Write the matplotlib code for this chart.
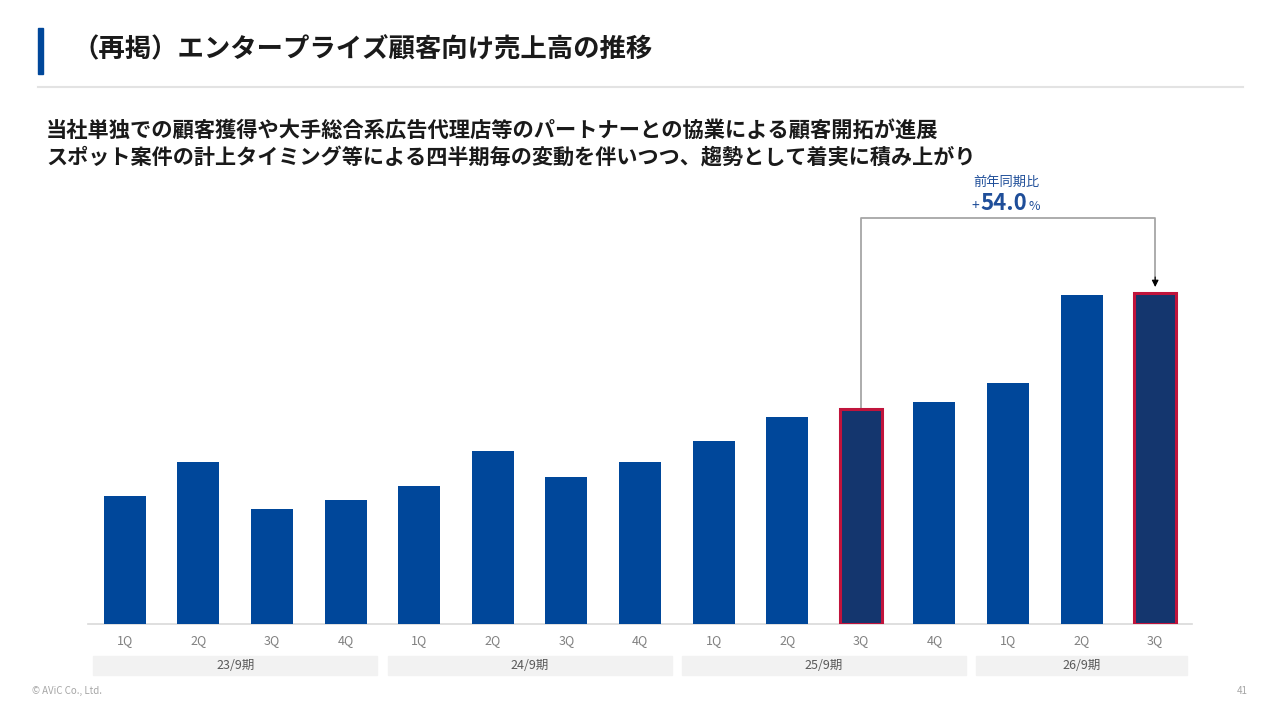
import matplotlib
matplotlib.use("Agg")
import matplotlib.pyplot as plt
from matplotlib.patches import Rectangle
from matplotlib.offsetbox import TextArea, HPacker, AnnotationBbox

plt.rcParams['font.family'] = ['Noto Sans CJK JP', 'DejaVu Sans']

# data (relative sales)
quarters = ["1Q", "2Q", "3Q", "4Q", "1Q", "2Q", "3Q", "4Q",
            "1Q", "2Q", "3Q", "4Q", "1Q", "2Q", "3Q"]
sales = [128, 162, 115, 124, 138, 173, 147, 162,
         183, 207, 215, 222, 241, 329, 331]
periods = ["23/9期", "24/9期", "25/9期", "26/9期"]
period_sizes = [4, 4, 4, 3]
highlight = [10, 14]
yoy_label = "54.0"

title = "（再掲）エンタープライズ顧客向け売上高の推移"
sub1 = "当社単独での顧客獲得や大手総合系広告代理店等のパートナーとの協業による顧客開拓が進展"
sub2 = "スポット案件の計上タイミング等による四半期毎の変動を伴いつつ、趨勢として着実に積み上がり"

blue = "#00479a"
navy = "#14366e"
red = "#c0143c"
txt_blue = "#1f4e99"

fig = plt.figure(figsize=(12.8, 7.2), dpi=100)
W, H = 1280, 720

# header
fig.patches.append(Rectangle((38 / W, 1 - 74 / H), 5 / W, 46 / H,
                             transform=fig.transFigure, color="#00479a"))
fig.text(72 / W, 1 - 50 / H, title, fontsize=19, fontweight="bold",
         va="center", ha="left", color="#1a1a1a")
fig.add_artist(plt.Line2D([38 / W, 1243 / W], [1 - 87 / H, 1 - 87 / H],
                          color="#e3e3e3", lw=1.5, transform=fig.transFigure))
fig.text(46 / W, 1 - 130 / H, sub1, fontsize=15.3, fontweight="bold",
         va="center", ha="left", color="#1a1a1a")
fig.text(46 / W, 1 - 158 / H, sub2, fontsize=15.2, fontweight="bold",
         va="center", ha="left", color="#1a1a1a")

# chart area: 1 data unit = 1 pixel vertically
ax = fig.add_axes([88 / W, (720 - 624) / H, 1104 / W, 400 / H])
x = list(range(len(sales)))
colors = [navy if i in highlight else blue for i in x]
edges = [red if i in highlight else "none" for i in x]
lws = [2.2 if i in highlight else 0 for i in x]
ax.bar(x, sales, width=0.57, color=colors, edgecolor=edges, linewidth=lws, zorder=3)
ax.set_xlim(-0.5, 14.5)
ax.set_ylim(0, 400)
ax.set_yticks([])
ax.set_xticks(x)
ax.set_xticklabels(quarters, fontsize=9, color="#808080")
ax.tick_params(axis="x", length=0, pad=7)
for s in ["top", "left", "right"]:
    ax.spines[s].set_visible(False)
ax.spines["bottom"].set_color("#d9d9d9")
ax.spines["bottom"].set_linewidth(1.2)

# period boxes under the quarter labels
start = 0
for name, n in zip(periods, period_sizes):
    x0 = start - 0.43
    x1 = start + n - 1 + 0.43
    ax.add_patch(Rectangle((x0, -51), x1 - x0, 19, color="#f2f2f2",
                           clip_on=False, zorder=1))
    ax.text((x0 + x1) / 2, -41.5, name, fontsize=9, color="#595959",
            ha="center", va="center", clip_on=False)
    start += n

# year-over-year connector
a, b = highlight
top_y = 406
ax.plot([a, a, b, b], [sales[a] + 1, top_y, top_y, sales[b] + 14],
        color="#a6a6a6", lw=1.3, clip_on=False, zorder=2)
ax.annotate("", xy=(b, sales[b] + 6), xytext=(b, sales[b] + 16),
            arrowprops=dict(arrowstyle="-|>", color="black", lw=0.8,
                            mutation_scale=10, shrinkA=0, shrinkB=0),
            annotation_clip=False)

fig.text(1006 / W, 1 - 182 / H, "前年同期比", fontsize=9.5, color=txt_blue,
         ha="center", va="center")
pack = HPacker(children=[
    TextArea("+", textprops=dict(fontsize=10, color=txt_blue)),
    TextArea(yoy_label, textprops=dict(fontsize=16, color=txt_blue, fontweight="bold")),
    TextArea("%", textprops=dict(fontsize=9, color=txt_blue)),
], align="baseline", pad=0, sep=1)
ab = AnnotationBbox(pack, (1006 / W, 1 - 204 / H), xycoords="figure fraction",
                    frameon=False, box_alignment=(0.5, 0.5))
fig.add_artist(ab)

# footer
fig.text(32 / W, 1 - 691 / H, "© AViC Co., Ltd.", fontsize=7, color="#a6a6a6",
         ha="left", va="center")
fig.text(1248 / W, 1 - 691 / H, "41", fontsize=7, color="#a6a6a6",
         ha="right", va="center")

fig.savefig("out.png", dpi=100)
